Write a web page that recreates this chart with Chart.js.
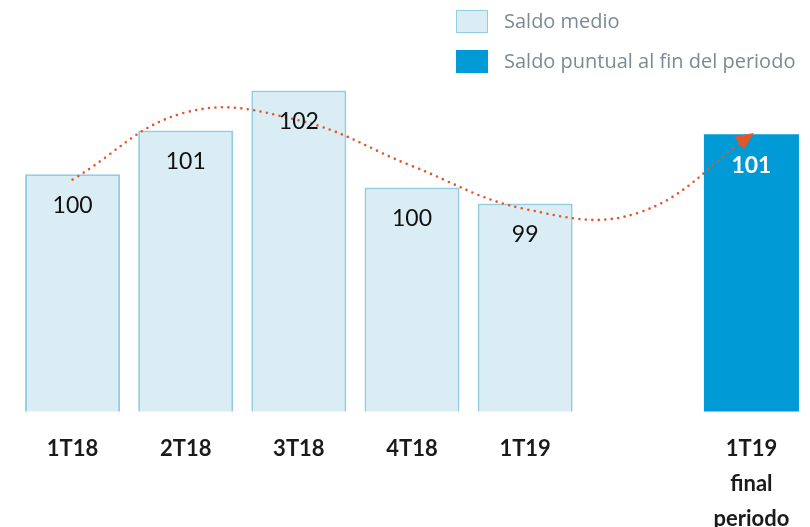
<!DOCTYPE html>
<html lang="es">
<head>
<meta charset="UTF-8">
<title>Saldo medio vs saldo puntual</title>
<script src="https://cdn.jsdelivr.net/npm/chart.js"></script>
<style>
  html, body { margin: 0; padding: 0; overflow: hidden; background: #fff; }
  #wrap { width: 810px; height: 557px; position: relative; }
</style>
</head>
<body>
<div id="wrap"><canvas id="chart"></canvas></div>
<script>
// categories (index 5 is an empty gap slot)
const periods = ['1T18', '2T18', '3T18', '4T18', '1T19', '', ['1T19', 'final', 'periodo']];
// bar heights (index, base ~93.5)
const saldoMedio   = [99.78, 100.94, 102.0, 99.43, 99.01, null, null];
const saldoPuntual = [null, null, null, null, null, null, 100.84];
// labels as printed on the bars
const printedLabels = ['100', '101', '102', '100', '99', '', '101'];
// dotted trend curve through the category centres
const trendLine = [99.64, 101.42, 101.21, 100.0, 98.86, 98.76, 100.83];

const legendItems = ['Saldo medio', 'Saldo puntual al fin del periodo'];

const LIGHT = '#daedf4', LIGHT_BORDER = '#93cde0', BLUE = '#009ad7', ORANGE = '#e2572a';

const barLabels = {
  id: 'barLabels',
  afterDatasetsDraw(chart) {
    const ctx = chart.ctx;
    ctx.save();
    ctx.textAlign = 'center';
    ctx.textBaseline = 'middle';
    [0, 1].forEach(di => {
      const meta = chart.getDatasetMeta(di);
      meta.data.forEach((bar, i) => {
        const v = chart.data.datasets[di].data[i];
        if (v == null) return;
        if (di === 0) { ctx.font = '23px Lato'; ctx.fillStyle = '#111'; }
        else { ctx.font = 'bold 23px Lato'; ctx.fillStyle = '#fff'; }
        ctx.fillText(printedLabels[i], bar.x, bar.y + 31);
      });
    });
    // arrow head at the end of the trend curve
    const pts = chart.getDatasetMeta(2).data;
    const last = pts[pts.length - 1];
    const a = Math.atan2(last.y - last.cp1y, last.x - last.cp1x);
    ctx.translate(last.x, last.y);
    ctx.rotate(a);
    ctx.fillStyle = ORANGE;
    ctx.beginPath();
    ctx.moveTo(3, 0);
    ctx.lineTo(-15, -8);
    ctx.lineTo(-15, 8);
    ctx.closePath();
    ctx.fill();
    ctx.restore();
  }
};

const customLegend = {
  id: 'customLegend',
  afterDraw(chart) {
    const ctx = chart.ctx;
    ctx.save();
    ctx.font = '20px "Open Sans"';
    ctx.textBaseline = 'middle';
    ctx.textAlign = 'left';
    legendItems.forEach((txt, i) => {
      const y = 10 + i * 40;
      if (i === 0) {
        ctx.fillStyle = LIGHT;
        ctx.fillRect(456, y, 32, 23);
        ctx.strokeStyle = LIGHT_BORDER;
        ctx.lineWidth = 1;
        ctx.strokeRect(456.5, y + 0.5, 31, 22);
      } else {
        ctx.fillStyle = BLUE;
        ctx.fillRect(456, y, 32, 23);
      }
      ctx.fillStyle = '#7b8a93';
      ctx.fillText(txt, 504, y + 12);
    });
    ctx.restore();
  }
};

new Chart(document.getElementById('chart'), {
  data: {
    labels: periods,
    datasets: [
      {
        type: 'bar', label: legendItems[0], data: saldoMedio,
        backgroundColor: LIGHT, borderColor: LIGHT_BORDER, borderWidth: 2,
        borderSkipped: false, grouped: false,
        barPercentage: 0.84, categoryPercentage: 1, order: 2
      },
      {
        type: 'bar', label: legendItems[1], data: saldoPuntual,
        backgroundColor: BLUE, borderWidth: 0, grouped: false,
        barPercentage: 0.84, categoryPercentage: 1, order: 2
      },
      {
        type: 'line', label: 'tendencia', data: trendLine,
        borderColor: ORANGE, borderWidth: 2.6, borderDash: [0, 6.5],
        borderCapStyle: 'round', pointRadius: 0, tension: 0.4,
        fill: false, order: 1
      }
    ]
  },
  options: {
    responsive: true,
    maintainAspectRatio: false,
    animation: false,
    layout: { padding: { left: 16, right: 2, top: 15, bottom: 0 } },
    plugins: { legend: { display: false }, tooltip: { enabled: false } },
    scales: {
      x: {
        grid: { display: false, drawTicks: false },
        border: { display: false },
        ticks: {
          autoSkip: false, maxRotation: 0, padding: 20,
          color: '#1a1a1a',
          font: { family: 'Lato', size: 22, weight: 'bold', lineHeight: 1.6 }
        }
      },
      y: { display: false, min: 93.5, max: 104 }
    }
  },
  plugins: [barLabels, customLegend]
});
</script>
</body>
</html>
